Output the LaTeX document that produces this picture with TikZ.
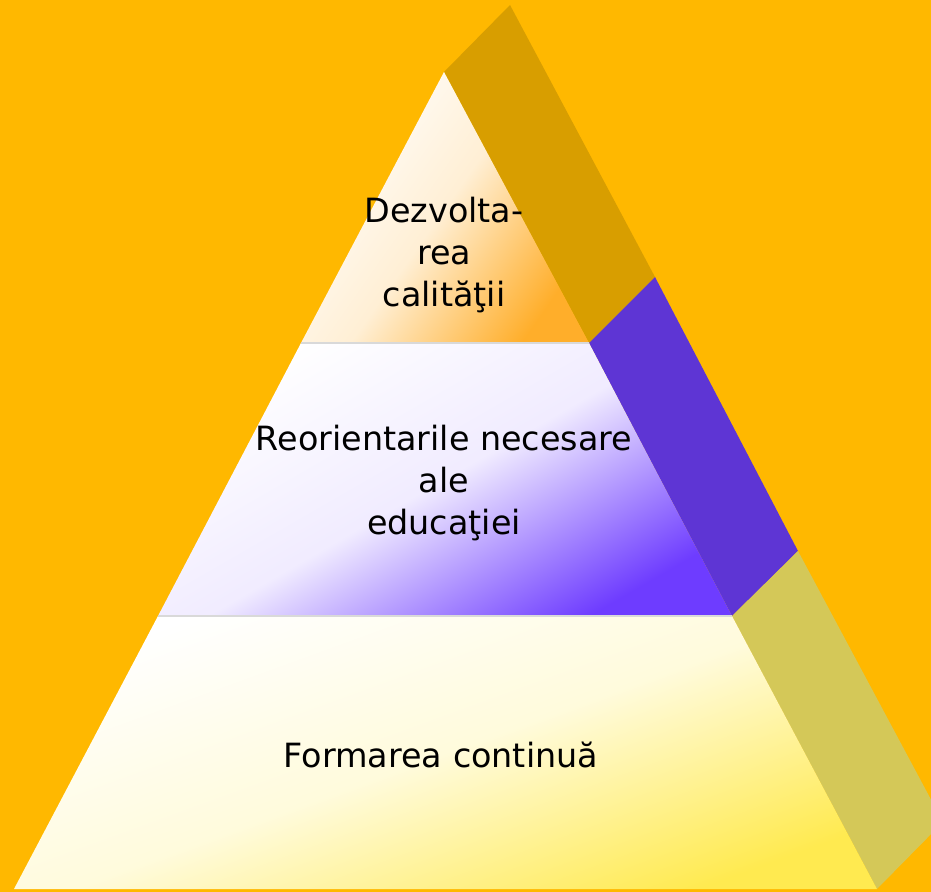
\documentclass[tikz,border=0pt]{standalone}
\usepackage{fontspec}
\setmainfont{DejaVu Sans}
\definecolor{bg}{HTML}{FFB800}
\definecolor{sidetop}{HTML}{D89E00}
\definecolor{sidemid}{HTML}{5E35D4}
\definecolor{sidebot}{HTML}{D4C858}
\definecolor{tiptop}{HTML}{FFAE2A}
\definecolor{tipmid}{HTML}{6E3CFF}
\definecolor{tipbot}{HTML}{FFEA50}
\tikzset{
    tierlabel/.style={align=center,font=\fontsize{19}{24}\selectfont,inner sep=0pt}
}
\begin{document}
\begin{tikzpicture}[x=0.02cm,y=-0.02cm]
        \fill [bg] (0,0) rectangle (931,892);
        \useasboundingbox (0,0) rectangle (931,892);
        \clip (0,0) rectangle (931,892);
        % side of the pyramid
        \fill [sidetop] (444,72) -- (510,5) -- (655,277) -- (589,343) -- cycle;
        \fill [sidemid] (589,343) -- (655,277) -- (798,551) -- (732,616) -- cycle;
        \fill [sidebot] (732,616) -- (798,551) -- (943,822) -- (877,889) -- cycle;
        % front of the pyramid
        \shade [top color=white,bottom color=tiptop,middle color=tiptop!20,shading angle=55]
            (444,72) -- (589,343) -- (301,343) -- cycle;
        \shade [top color=white,bottom color=tipmid,middle color=tipmid!10,shading angle=30]
            (301,343) -- (589,343) -- (732,616) -- (158,616) -- cycle;
        \shade [top color=white,bottom color=tipbot,middle color=tipbot!20,shading angle=20]
            (158,616) -- (732,616) -- (877,889) -- (14,889) -- cycle;
        \draw [white!85!black,line width=.6pt] (301,343) -- (589,343);
        \draw [white!85!black,line width=.6pt] (158,616) -- (732,616);
        % labels
        \node (top) [tierlabel] at (444,255) {Dezvolta-\\rea\\calităţii};
        \node (mid) [tierlabel] at (444,483) {Reorientarile necesare\\ale\\educaţiei};
        \node (bot) [tierlabel] at (441,755) {Formarea continuă};
\end{tikzpicture}
\end{document}
